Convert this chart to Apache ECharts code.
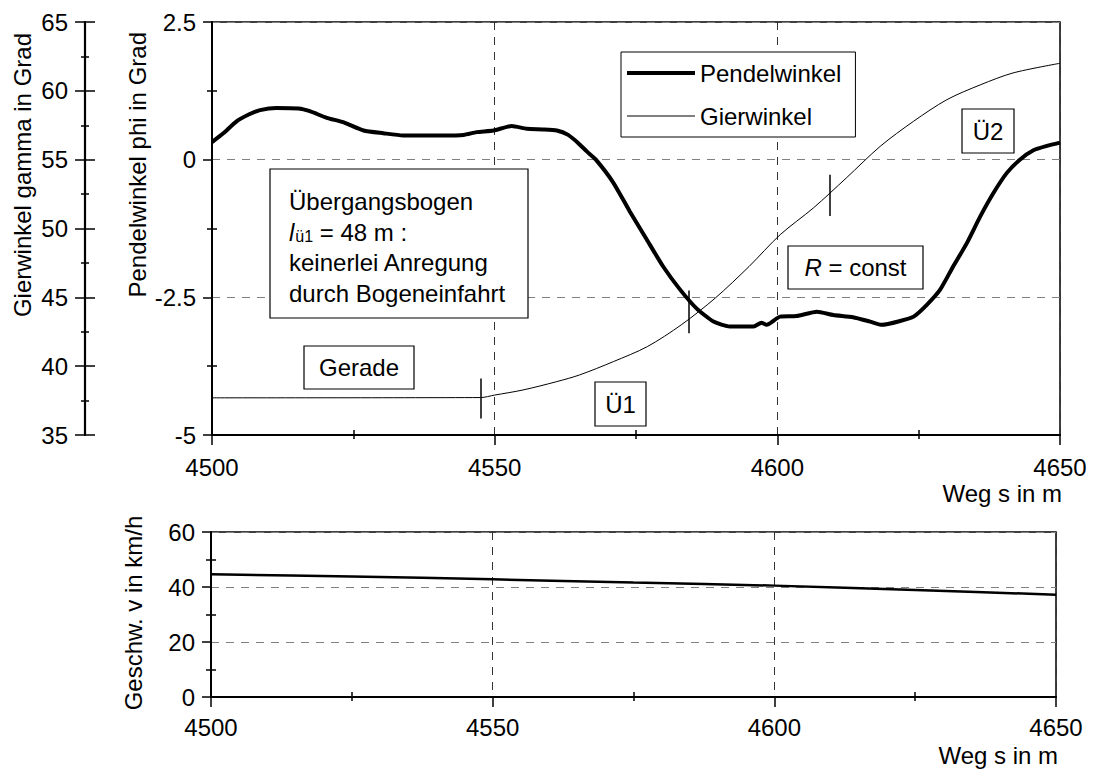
<!DOCTYPE html>
<html>
<head>
<meta charset="utf-8">
<title>Pendelwinkel und Gierwinkel</title>
<script src="https://cdn.jsdelivr.net/npm/echarts@6/dist/echarts.min.js"></script>
<style>
  html, body { margin: 0; padding: 0; background: #fff; }
  #chart { width: 1093px; height: 772px; }
</style>
</head>
<body>
<div id="chart"></div>
<script>
// Weg s in m / Pendelwinkel phi in Grad
const wegPendel = [4500, 4502, 4504.4, 4506.5, 4508.5, 4511.4, 4515.3, 4517.3, 4520.3, 4523.2,
  4526.8, 4530.3, 4533.8, 4537, 4540.9, 4544.5, 4546.8, 4549.8, 4553.0, 4555.7,
  4558.5, 4561.0, 4563, 4564.8, 4566.3, 4567.9, 4571.0, 4573.9, 4576.9, 4579.8,
  4582.8, 4585.7, 4588.7, 4591.6, 4595.8, 4597.2, 4598.1, 4600.5, 4603.4, 4607.0,
  4609.9, 4613.4, 4616.4, 4618.5, 4621.7, 4624.1, 4626.4, 4628.8, 4631.1, 4633.5,
  4635.9, 4638.2, 4640.6, 4642.9, 4645.3, 4647.7, 4650];
const pendelwinkel = [0.32, 0.48, 0.70, 0.82, 0.90, 0.94, 0.93, 0.88, 0.76, 0.68,
  0.53, 0.48, 0.44, 0.44, 0.44, 0.45, 0.50, 0.53, 0.61, 0.56,
  0.55, 0.53, 0.45, 0.30, 0.15, 0.0, -0.42, -0.94, -1.45, -1.94,
  -2.36, -2.70, -2.94, -3.03, -3.03, -2.96, -3.0, -2.85, -2.84, -2.76,
  -2.82, -2.86, -2.94, -3.0, -2.93, -2.85, -2.64, -2.36, -1.94, -1.52,
  -1.03, -0.61, -0.24, 0.0, 0.17, 0.25, 0.31];

// Weg s in m / Gierwinkel gamma in Grad
const wegGier = [4500, 4547.5, 4550, 4555, 4561, 4565, 4571, 4577, 4583, 4589,
  4595, 4600.5, 4606.4, 4612.2, 4618.2, 4624.1, 4630, 4636, 4641.7, 4650];
const gierwinkel = [37.7, 37.72, 37.9, 38.27, 38.88, 39.36, 40.33, 41.42, 43.0, 44.94,
  47.24, 49.55, 51.5, 53.67, 55.97, 57.79, 59.36, 60.45, 61.3, 62.0];

// short marks on the Gierwinkel curve: [s, gamma from, gamma to]
const gierMarken = [[4547.5, 36.2, 39.1], [4584.3, 42.4, 45.5], [4609.3, 50.9, 53.9]];

// Weg s in m / Geschw. v in km/h
const wegGeschw = [4500, 4525, 4550, 4575, 4600, 4625, 4650];
const geschw = [44.6, 43.8, 42.8, 41.6, 40.5, 38.9, 37.2];

const FONT = '"Liberation Sans", Arial, sans-serif';
const pairs = (xs, ys) => xs.map((x, i) => [x, ys[i]]);

const chart = echarts.init(document.getElementById('chart'), null, { renderer: 'svg' });

const axisLine = { onZero: false, lineStyle: { color: '#000', width: 2 } };
const label = { color: '#000', fontSize: 24, fontFamily: FONT, formatter: v => String(v) };
const dashX = { show: true, lineStyle: { color: '#333', width: 1, type: [8, 7] } };
const dashY = { show: true, lineStyle: { color: '#808080', width: 1.2, type: [8, 7] } };

// axes that only add the inner half of the crossing ticks
function innerX(grid) {
  return {
    type: 'value', gridIndex: grid, position: 'bottom', min: 4500, max: 4650, interval: 50,
    axisLine: { show: false, onZero: false },
    axisTick: { show: false, inside: true },
    minorTick: { show: true, splitNumber: 2, length: 5, lineStyle: { color: '#000', width: 1.5 } },
    axisLabel: { show: false }, splitLine: { show: false }
  };
}

const option = {
  animation: false,
  backgroundColor: '#fff',
  textStyle: { fontFamily: FONT, color: '#000' },
  grid: [
    { left: 212, top: 22, width: 848, height: 413, show: true, borderColor: '#000', borderWidth: 1.5 },
    { left: 211, top: 532, width: 845, height: 165, show: true, borderColor: '#000', borderWidth: 1.5 }
  ],
  legend: {
    orient: 'vertical', left: 621, top: 52,
    backgroundColor: '#fff', borderColor: '#000', borderWidth: 1,
    padding: [9, 14, 9, 4],
    itemWidth: 68, itemHeight: 14, itemGap: 19,
    itemStyle: { opacity: 0 },
    textStyle: { fontSize: 24, color: '#000', fontFamily: FONT },
    data: [
      { name: 'Pendelwinkel', lineStyle: { color: '#000', width: 4 } },
      { name: 'Gierwinkel', lineStyle: { color: '#000', width: 1 } }
    ]
  },
  xAxis: [
    {
      type: 'value', gridIndex: 0, position: 'bottom', min: 4500, max: 4650, interval: 50,
      axisLine: axisLine,
      axisTick: { length: 10, lineStyle: { color: '#000', width: 1.5 } },
      minorTick: { show: true, splitNumber: 2, length: 4, lineStyle: { color: '#000', width: 1.5 } },
      axisLabel: Object.assign({ margin: 20 }, label),
      splitLine: dashX
    },
    innerX(0),
    {
      type: 'value', gridIndex: 1, position: 'bottom', min: 4500, max: 4650, interval: 50,
      axisLine: axisLine,
      axisTick: { length: 10, lineStyle: { color: '#000', width: 1.5 } },
      minorTick: { show: true, splitNumber: 2, length: 4, lineStyle: { color: '#000', width: 1.5 } },
      axisLabel: Object.assign({ margin: 18 }, label),
      splitLine: dashX
    },
    innerX(1)
  ],
  yAxis: [
    {
      type: 'value', gridIndex: 0, position: 'left', min: -5, max: 2.5, interval: 2.5,
      axisLine: axisLine,
      axisTick: { length: 9, lineStyle: { color: '#000', width: 1.5 } },
      minorTick: { show: true, splitNumber: 2, length: 5, lineStyle: { color: '#000', width: 1.5 } },
      axisLabel: Object.assign({ margin: 16 }, label),
      splitLine: dashY
    },
    {
      type: 'value', gridIndex: 0, position: 'left', offset: 127, min: 35, max: 65, interval: 5,
      axisLine: { show: true, onZero: false, lineStyle: { color: '#000', width: 2.2 } },
      axisTick: { show: true, length: 10, lineStyle: { color: '#000', width: 1.5 } },
      minorTick: { show: true, splitNumber: 2, length: 4, lineStyle: { color: '#000', width: 1.5 } },
      axisLabel: Object.assign({ margin: 17 }, label),
      splitLine: { show: false }
    },
    {
      type: 'value', gridIndex: 0, position: 'left', min: -5, max: 2.5, interval: 2.5,
      axisLine: { show: false, onZero: false },
      axisTick: { show: false, inside: true },
      minorTick: { show: true, splitNumber: 2, length: 5, lineStyle: { color: '#000', width: 1.5 } },
      axisLabel: { show: false }, splitLine: { show: false }
    },
    {
      type: 'value', gridIndex: 0, position: 'left', offset: 127, min: 35, max: 65, interval: 5,
      axisLine: { show: false, onZero: false },
      axisTick: { show: true, inside: true, length: 10, lineStyle: { color: '#000', width: 1.5 } },
      minorTick: { show: true, splitNumber: 2, length: 4, lineStyle: { color: '#000', width: 1.5 } },
      axisLabel: { show: false }, splitLine: { show: false }
    },
    {
      type: 'value', gridIndex: 1, position: 'left', min: 0, max: 60, interval: 20,
      axisLine: axisLine,
      axisTick: { length: 9, lineStyle: { color: '#000', width: 1.5 } },
      minorTick: { show: true, splitNumber: 2, length: 5, lineStyle: { color: '#000', width: 1.5 } },
      axisLabel: Object.assign({ margin: 16 }, label),
      splitLine: dashY
    },
    {
      type: 'value', gridIndex: 1, position: 'left', min: 0, max: 60, interval: 20,
      axisLine: { show: false, onZero: false },
      axisTick: { show: false, inside: true },
      minorTick: { show: true, splitNumber: 2, length: 5, lineStyle: { color: '#000', width: 1.5 } },
      axisLabel: { show: false }, splitLine: { show: false }
    }
  ],
  series: [
    {
      name: 'Pendelwinkel', type: 'line', xAxisIndex: 0, yAxisIndex: 0,
      data: pairs(wegPendel, pendelwinkel),
      symbol: 'none', smooth: 0.2, z: 3,
      itemStyle: { color: '#000' },
      lineStyle: { color: '#000', width: 4 }
    },
    {
      name: 'Gierwinkel', type: 'line', xAxisIndex: 0, yAxisIndex: 1,
      data: pairs(wegGier, gierwinkel),
      symbol: 'none', smooth: 0.3, z: 2,
      itemStyle: { color: '#000' },
      lineStyle: { color: '#000', width: 1 },
      markLine: {
        silent: true, symbol: 'none', label: { show: false },
        lineStyle: { color: '#000', type: 'solid', width: 1.5 },
        data: gierMarken.map(m => [{ coord: [m[0], m[1]] }, { coord: [m[0], m[2]] }])
      }
    },
    {
      name: 'Geschwindigkeit', type: 'line', xAxisIndex: 2, yAxisIndex: 4,
      data: pairs(wegGeschw, geschw),
      symbol: 'none', smooth: 0.3,
      itemStyle: { color: '#000' },
      lineStyle: { color: '#000', width: 2.5 }
    }
  ],
  graphic: [
    // axis titles
    { type: 'text', x: 22, y: 33, rotation: Math.PI / 2, z: 100,
      style: { text: 'Gierwinkel gamma in Grad', fill: '#000', font: '24px ' + FONT,
        align: 'right', textAlign: 'right', verticalAlign: 'middle', textVerticalAlign: 'middle' } },
    { type: 'text', x: 137, y: 32, rotation: Math.PI / 2, z: 100,
      style: { text: 'Pendelwinkel phi in Grad', fill: '#000', font: '24px ' + FONT,
        align: 'right', textAlign: 'right', verticalAlign: 'middle', textVerticalAlign: 'middle' } },
    { type: 'text', x: 133, y: 613, rotation: Math.PI / 2, z: 100,
      style: { text: 'Geschw. v in km/h', fill: '#000', font: '24px ' + FONT,
        align: 'center', textAlign: 'center', verticalAlign: 'middle', textVerticalAlign: 'middle' } },
    { type: 'text', x: 1062, y: 493, z: 100,
      style: { text: 'Weg s in m', fill: '#000', font: '24px ' + FONT,
        align: 'right', textAlign: 'right', verticalAlign: 'middle', textVerticalAlign: 'middle' } },
    { type: 'text', x: 1058, y: 755, z: 100,
      style: { text: 'Weg s in m', fill: '#000', font: '24px ' + FONT,
        align: 'right', textAlign: 'right', verticalAlign: 'middle', textVerticalAlign: 'middle' } },

    // annotation boxes
    { type: 'rect', z: 100, shape: { x: 270, y: 169, width: 258, height: 149 },
      style: { fill: '#fff', stroke: '#000', lineWidth: 1.2 } },
    { type: 'text', x: 289, y: 186.5, z: 101,
      style: {
        text: 'Übergangsbogen\n{it|l}{sub|ü1}{n| = 48 m :}\nkeinerlei Anregung\ndurch Bogeneinfahrt',
        fill: '#000', font: '24px ' + FONT, lineHeight: 30.5,
        align: 'left', textAlign: 'left', verticalAlign: 'top', textVerticalAlign: 'top',
        rich: {
          it: { fontStyle: 'italic', fontSize: 24, fontFamily: FONT, lineHeight: 30.5, fill: '#000' },
          sub: { fontSize: 16, fontFamily: FONT, lineHeight: 16, padding: [0, 0, 3, 1], verticalAlign: 'bottom', fill: '#000' },
          n: { fontSize: 24, fontFamily: FONT, lineHeight: 30.5, fill: '#000' }
        }
      } },

    { type: 'rect', z: 100, shape: { x: 304, y: 346, width: 110, height: 43 },
      style: { fill: '#fff', stroke: '#000', lineWidth: 1.2 } },
    { type: 'text', x: 359, y: 367.5, z: 101,
      style: { text: 'Gerade', fill: '#000', font: '24px ' + FONT,
        align: 'center', textAlign: 'center', verticalAlign: 'middle', textVerticalAlign: 'middle' } },

    { type: 'rect', z: 100, shape: { x: 595, y: 382, width: 51, height: 44 },
      style: { fill: '#fff', stroke: '#000', lineWidth: 1.2 } },
    { type: 'text', x: 620.5, y: 404, z: 101,
      style: { text: 'Ü1', fill: '#000', font: '24px ' + FONT,
        align: 'center', textAlign: 'center', verticalAlign: 'middle', textVerticalAlign: 'middle' } },

    { type: 'rect', z: 100, shape: { x: 788, y: 246, width: 135, height: 43 },
      style: { fill: '#fff', stroke: '#000', lineWidth: 1.2 } },
    { type: 'text', x: 855.5, y: 267.5, z: 101,
      style: {
        text: '{it|R}{n| = const}', fill: '#000', font: '24px ' + FONT,
        align: 'center', textAlign: 'center', verticalAlign: 'middle', textVerticalAlign: 'middle',
        rich: {
          it: { fontStyle: 'italic', fontSize: 24, fontFamily: FONT, fill: '#000' },
          n: { fontSize: 24, fontFamily: FONT, fill: '#000' }
        }
      } },

    { type: 'rect', z: 100, shape: { x: 962, y: 109, width: 52, height: 44 },
      style: { fill: '#fff', stroke: '#000', lineWidth: 1.2 } },
    { type: 'text', x: 988, y: 131, z: 101,
      style: { text: 'Ü2', fill: '#000', font: '24px ' + FONT,
        align: 'center', textAlign: 'center', verticalAlign: 'middle', textVerticalAlign: 'middle' } }
  ]
};

chart.setOption(option);
</script>
</body>
</html>
